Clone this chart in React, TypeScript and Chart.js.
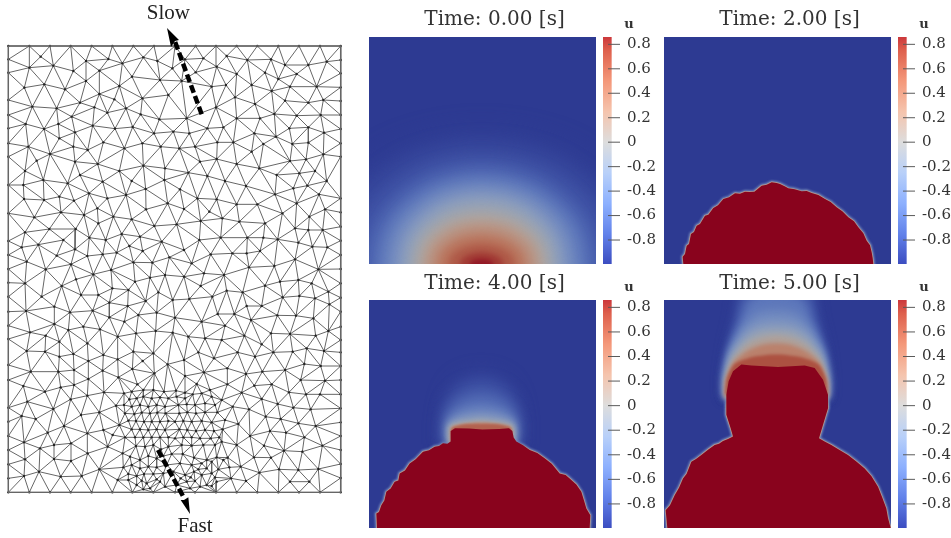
import React, { useEffect, useRef } from "react";
import { Chart, registerables } from "chart.js";

// ---------- Mesh nodes, tile by tile ----------
const meshTileOffsets = [[0, 0], [510, 0], [0, 510], [510, 510], [0, 1050], [510, 1050]];
const meshTopLeft = [
  [25,138],[88,138],[150,138],[212,138],[275,138],[337,138],[400,138],[462,138],
  [25,178],[25,218],[25,300],[25,345],[25,385],[25,430],[25,470],
  [122,170],[88,203],[160,197],[220,213],[258,183],[325,177],[367,190],[430,172],[472,183],
  [298,212],[258,243],[396,230],[480,240],[73,263],[133,253],[195,268],[298,282],[358,258],
  [427,295],[505,285],[343,298],[97,320],[170,325],[240,308],[322,338],[378,325],[283,322],
  [77,372],[132,387],[175,372],[215,350],[278,377],[345,386],[398,381],[422,343],[478,358],
  [462,400],[85,440],[150,462],[178,415],[225,397],[220,440],[263,450],[310,427],[373,445],
  [427,430],[482,440],[110,482],[225,485],[293,492],[430,497],[495,505],
];
const meshTopRight = [
  [15,138],[77,138],[138,138],[200,138],[262,138],[325,138],[387,138],[450,138],[512,138],
  [512,180],[512,220],[512,262],[512,303],[512,345],[512,387],[512,430],[512,470],
  [45,178],[100,175],[170,168],[232,180],[303,178],[345,195],[415,195],[470,185],[140,200],
  [77,217],[200,222],[285,218],[325,237],[380,222],[7,205],[35,243],[125,260],[168,255],[245,255],
  [305,273],[360,260],[440,260],[195,292],[138,322],[255,312],[345,302],[415,308],[460,300],
  [50,355],[200,355],[270,355],[313,342],[380,347],[452,345],[112,385],[160,382],[358,385],
  [415,382],[10,395],[58,400],[253,400],[318,410],[462,398],[142,427],[190,427],[28,445],
  [75,440],[280,432],[367,432],[415,428],[245,455],[140,477],[90,485],[200,492],[360,483],
  [408,478],[460,463],[268,505],
];
const meshMidLeft = [
  [75,3],[130,30],[70,45],[25,45],[203,40],[240,15],[267,70],[308,35],[358,3],[378,75],[395,33],
  [437,57],[493,30],[322,85],[178,80],[222,92],[72,87],[132,90],[292,115],[25,130],[183,127],
  [103,142],[252,135],[340,140],[438,118],[503,100],[395,148],[463,168],[75,187],[148,177],
  [227,177],[295,160],[268,203],[317,210],[365,192],[420,200],[485,215],[190,210],[115,224],
  [25,213],[65,232],[225,238],[25,255],[170,257],[262,258],[308,253],[350,248],[388,228],
  [428,243],[80,275],[508,262],[137,298],[213,283],[25,297],[400,277],[457,278],[333,300],
  [280,313],[228,328],[75,340],[25,338],[450,323],[495,315],[405,335],[185,348],[337,355],
  [243,375],[295,375],[25,380],[125,380],[475,367],[385,360],[437,393],[328,398],[383,408],
  [163,410],[78,423],[210,427],[278,422],[328,442],[415,435],[470,428],[373,455],[25,425],
  [163,462],[25,467],[250,470],[90,487],[137,497],[205,480],[300,478],[408,490],[467,483],
  [353,500],[25,507],[178,515],[262,520],
];
const meshMidRight = [
  [55,8],[112,18],[165,33],[228,48],[320,15],[388,10],[435,3],[412,47],[370,55],[470,33],[30,58],
  [82,85],[140,88],[200,103],[262,103],[315,73],[380,100],[447,73],[512,85],[42,117],[118,125],
  [337,130],[465,118],[512,127],[20,163],[92,153],[157,145],[208,155],[285,160],[418,140],
  [375,175],[415,180],[458,180],[512,170],[88,210],[152,203],[232,203],[280,203],[323,208],
  [385,218],[427,230],[472,232],[512,212],[42,240],[122,253],[187,250],[230,250],[270,243],
  [375,268],[512,255],[2,265],[65,280],[237,292],[313,288],[445,298],[512,297],[42,320],
  [102,310],[162,315],[385,330],[512,340],[92,348],[170,362],[218,367],[285,347],[330,335],
  [425,340],[475,365],[8,390],[58,387],[127,380],[338,382],[388,378],[435,385],[512,383],
  [230,408],[275,408],[478,403],[143,432],[193,432],[322,436],[378,437],[430,445],[512,425],
  [15,443],[95,455],[165,467],[243,450],[512,470],[475,483],[8,488],[55,500],[105,505],
  [155,510],[223,497],[303,490],[360,492],[437,497],[275,523],[410,535],[512,510],
];
const meshBottomLeft = [
  [25,45],[25,90],[25,173],[25,215],[25,258],[25,300],[25,343],[25,385],[25,427],
  [88,427],[150,427],[212,427],[275,427],[337,427],[397,427],[460,427],
  [80,3],[135,5],[178,20],[220,12],[265,33],[310,15],[353,28],[400,5],[428,33],[460,10],[503,43],
  [92,65],[175,65],[222,60],[308,62],[355,82],[397,57],[463,70],[70,108],[135,125],[182,112],
  [222,105],[265,87],[312,127],[412,103],[82,155],[160,177],[212,148],[262,137],[65,198],
  [107,207],[243,195],[298,187],[348,167],[192,228],[143,248],[262,250],[310,240],[358,225],
  [72,277],[120,295],[162,285],[213,280],[323,290],[338,255],[75,328],[162,327],[213,333],
  [263,310],[368,310],[117,365],[298,358],[370,352],[72,378],[182,380],[245,378],[353,390],[385,390],
  [372,130],[388,148],[372,165],[395,125],[430,120],[460,120],[492,125],
  [410,145],[430,140],[455,145],[480,142],[505,145],
  [395,170],[420,165],[445,170],[470,165],[495,170],
  [375,190],[403,192],[425,188],[450,190],[472,188],[497,190],
  [385,212],[408,213],[432,215],[455,215],[480,215],[505,213],
  [395,238],[420,238],[445,240],[470,238],[495,240],
  [375,262],[405,262],[430,262],[455,262],[480,262],[505,262],
  [408,288],[435,290],[460,285],[483,298],[505,290],
  [390,320],[420,330],[445,318],[470,325],[490,318],[500,345],
  [395,345],[420,355],[445,350],[470,352],
  [410,378],[432,372],[460,372],[490,370],[385,372],[470,388],
  [410,405],[440,400],[465,395],[495,410],[425,392],[450,415],[480,395],[430,418],
];
const meshBottomRight = [
  [15,427],[75,427],[138,427],[200,427],[262,427],[325,427],[387,427],[450,427],[512,427],
  [512,7],[512,48],[512,90],[512,133],[512,175],[512,217],[512,258],[512,300],[512,342],[512,384],
  [42,30],[85,7],[132,25],[203,7],[255,20],[310,7],[368,5],[462,3],[45,78],[102,67],[172,55],
  [228,72],[277,65],[345,60],[403,42],[452,48],[172,103],[253,107],[305,103],[392,90],[465,92],
  [215,128],[275,147],[357,127],[408,133],[450,133],[188,170],[237,178],[323,162],[370,173],
  [422,178],[287,200],[332,207],[385,220],[437,228],[205,222],[240,258],[300,243],[348,248],
  [403,262],[200,285],[282,287],[457,287],[342,302],[397,305],[252,322],[303,323],[212,350],
  [268,368],[327,358],[385,360],[445,357],[183,385],[360,395],[418,395],[228,393],
  [18,122],[45,128],[80,102],[120,120],[155,150],
  [20,140],[45,145],[68,133],[95,130],[125,140],
  [25,165],[50,163],[75,165],[105,160],[135,165],
  [28,190],[52,187],[78,190],[105,187],[142,187],
  [15,215],[40,213],[65,215],[95,213],[125,217],[165,210],
  [28,238],[52,240],[78,243],[105,240],[132,243],[158,238],
  [15,265],[40,262],[65,262],[90,265],[122,265],[148,262],
  [35,285],[65,287],[100,285],[135,285],[155,275],
  [5,312],[38,312],[72,323],[110,330],[140,322],[173,323],
  [30,340],[65,345],[95,340],[125,335],[160,330],[178,352],
  [10,365],[45,375],[72,365],[95,375],[125,370],[145,358],
  [20,405],[50,395],[75,393],[110,405],[140,395],
  [32,385],[60,415],[90,410],[125,408],[62,382],[85,358],[110,355],[135,382],
];
const meshTiles = [meshTopLeft, meshTopRight, meshMidLeft, meshMidRight, meshBottomLeft, meshBottomRight];
const meshCorners = [[25,138],[1022,138],[1022,1477],[25,1477],[25,138]];
const slowShaft = [[605,343],[525,125]];
const slowHead = [[501,84],[513,141],[525,123],[537,120]];
const fastShaft = [[474,1350],[550,1490]];
const fastHead = [[570,1542],[542,1500],[552,1500],[565,1492]];

// ---------- Colour bar ----------
const colorbarTicks = [0.8, 0.6, 0.4, 0.2, 0, -0.2, -0.4, -0.6, -0.8];
const colormapValues = [-1, -0.75, -0.5, -0.25, 0, 0.25, 0.5, 0.75, 1];
const colormapColors = [
  [59,76,192],[98,130,234],[141,176,254],[184,208,249],[221,221,221],
  [245,196,173],[244,152,122],[222,96,77],[180,4,38],
];
const fieldShade = 0.76;

// ---------- Panel titles ----------
const panelTitles = ["Time: 0.00 [s]", "Time: 2.00 [s]", "Time: 4.00 [s]", "Time: 5.00 [s]"];

// ---------- Panel A: level curves of u (half-arches: distance from centre, height) ----------
const archLevelsA = [-0.95,-0.85,-0.7,-0.55,-0.4,-0.25,-0.1,0.05,0.2,0.35,0.5,0.65,0.8,0.92];
const archSoftenA = [14,12,10,9,8,7,6,5,4.5,4,3.5,3,2.5,2];
const archCurvesA = [
  [[490,0],[466,119],[417,204],[343,273],[245,335],[122,373],[0,385]],
  [[420,0],[399,105],[357,180],[294,241],[210,296],[105,330],[0,340]],
  [[345,0],[328,90],[293,154],[242,206],[173,252],[86,281],[0,290]],
  [[305,0],[290,80],[259,137],[214,183],[153,224],[76,250],[0,258]],
  [[275,0],[261,72],[234,123],[193,165],[138,202],[69,225],[0,232]],
  [[245,0],[233,64],[208,110],[172,148],[123,181],[61,202],[0,208]],
  [[220,0],[209,56],[187,95],[154,128],[110,157],[55,175],[0,180]],
  [[197,0],[187,47],[167,81],[138,109],[99,133],[49,148],[0,153]],
  [[175,0],[166,40],[149,69],[123,92],[88,113],[44,126],[0,130]],
  [[152,0],[144,33],[129,57],[106,76],[76,93],[38,104],[0,107]],
  [[128,0],[122,26],[109,45],[90,60],[64,74],[32,82],[0,85]],
  [[100,0],[95,19],[85,32],[70,43],[50,52],[25,58],[0,60]],
  [[65,0],[62,11],[55,19],[46,25],[33,30],[16,34],[0,35]],
  [[35,0],[33,5],[30,8],[25,11],[18,13],[9,15],[0,15]],
];

// ---------- Panel B: front of the saturated region ----------
const frontB = [
  [58,-30],[58,0],[56,22],[63,30],[68,55],[75,60],[81,90],[90,96],[98,115],[108,120],[123,145],
  [133,148],[148,168],[162,176],[178,195],[195,200],[213,212],[228,211],[243,217],[257,216],
  [271,217],[282,226],[293,235],[308,238],[323,245],[338,243],[348,240],[362,233],[373,227],
  [392,224],[413,218],[428,219],[443,213],[463,207],[483,195],[500,186],[518,170],[535,158],
  [553,140],[570,128],[583,110],[598,92],[608,70],[618,56],[623,35],[626,18],[628,0],[628,-30],
];

// ---------- Panel C ----------
const frontC = [
  [24,-30],[24,0],[22,43],[30,48],[37,68],[46,82],[52,108],[65,118],[77,138],[88,142],[92,163],
  [108,172],[122,193],[140,205],[162,228],[180,232],[197,243],[210,245],[222,253],[235,252],
  [245,258],[245,290],[258,298],[300,297],[340,294],[390,296],[420,298],[430,290],[434,270],
  [442,258],[462,247],[482,233],[505,224],[527,208],[548,192],[572,163],[590,158],[602,148],
  [622,130],[637,108],[645,82],[652,58],[664,38],[662,0],[662,-30],
];
const domeLevelsC = [-0.93,-0.8,-0.6,-0.4,-0.2,0,0.3,0.6];
const domeSoftenC = [9,8,7,5,3.5,2.5,1.5,1];
const domeCurvesC = [
  [[115,250],[115,320],[105,380],[80,430],[40,455],[0,462]],
  [[110,250],[110,320],[100,370],[72,405],[35,425],[0,430]],
  [[105,250],[105,315],[95,345],[65,368],[30,382],[0,385]],
  [[102,250],[102,310],[90,328],[60,342],[28,350],[0,352]],
  [[100,250],[100,305],[88,316],[58,325],[25,330],[0,332]],
  [[97,250],[97,300],[85,310],[55,316],[25,319],[0,320]],
  [[92,250],[92,298],[82,306],[50,312],[25,315],[0,316]],
  [[90,250],[90,295],[80,303],[50,310],[25,311],[0,311]],
];

// ---------- Panel D ----------
const frontD = [
  [10,-30],[10,0],[5,53],[18,68],[32,98],[45,120],[57,148],[68,162],[82,198],[96,206],[112,218],
  [132,234],[152,248],[165,252],[177,260],[192,266],[207,273],[200,298],[187,338],[187,398],
  [194,438],[207,468],[232,488],[262,485],[342,481],[422,485],[452,478],[477,443],[492,398],
  [492,358],[480,318],[465,268],[482,258],[502,248],[528,232],[552,218],[578,198],[602,178],
  [622,155],[642,123],[655,90],[667,58],[672,30],[680,0],[680,-30],
];
const domeLevelsD = [-0.93,-0.8,-0.6,-0.45,-0.3,-0.1,0.1,0.4,0.7];
const domeSoftenD = [6,5,4.5,4,3.5,3,2.5,2,1.5];
const domeCurvesD = [
  [[158,390],[159,450],[148,540],[128,628],[112,700],[0,730]],
  [[157,390],[158,450],[145,535],[120,625],[100,700],[0,720]],
  [[156,390],[157,450],[142,530],[110,610],[80,680],[0,705]],
  [[156,390],[156,450],[140,525],[100,600],[60,640],[0,650]],
  [[155,390],[155,445],[138,520],[95,585],[55,610],[0,618]],
  [[155,390],[154,440],[135,510],[92,565],[50,588],[0,593]],
  [[154,390],[153,440],[132,500],[88,548],[45,568],[0,575]],
  [[154,390],[152,440],[128,495],[85,530],[40,548],[0,552]],
  [[153,400],[147,450],[125,490],[75,510],[30,517],[0,518]],
];

// ---------- Helpers ----------
type P = { x: number | null; y: number | null };
const toPts = (a: number[][]): P[] => a.map(([x, y]) => ({ x, y }));

function coolwarm(u: number): number[] {
  for (let i = 0; i < colormapValues.length - 1; i++) {
    if (u <= colormapValues[i + 1]) {
      const t = (u - colormapValues[i]) / (colormapValues[i + 1] - colormapValues[i]);
      return colormapColors[i].map((c, k) => c + (colormapColors[i + 1][k] - c) * t);
    }
  }
  return colormapColors[colormapColors.length - 1];
}
const fieldColor = (u: number) => {
  const c = coolwarm(u).map((v) => Math.round(v * fieldShade));
  return `rgb(${c[0]},${c[1]},${c[2]})`;
};

const mirrored = (half: number[][], cx: number, base?: number): P[] => {
  const right = half.map(([d, y]) => ({ x: cx + d, y }));
  const left = half.slice(0, -1).reverse().map(([d, y]) => ({ x: cx - d, y }));
  const pts = [...right, ...left];
  if (base !== undefined) {
    pts.unshift({ x: cx + half[0][0], y: base });
    pts.push({ x: cx - half[0][0], y: base });
  }
  return pts;
};

// Bowyer-Watson over the nodes
function delaunayEdges(pts: number[][]): number[][] {
  const n = pts.length;
  const all = [...pts, [-50000, -50000], [60000, -50000], [500, 90000]];
  let tris: number[][] = [[n, n + 1, n + 2]];
  const inCircle = (t: number[], p: number[]) => {
    const [a, b, c] = [all[t[0]], all[t[1]], all[t[2]]];
    const ax = a[0] - p[0], ay = a[1] - p[1];
    const bx = b[0] - p[0], by = b[1] - p[1];
    const cx = c[0] - p[0], cy = c[1] - p[1];
    const det =
      (ax * ax + ay * ay) * (bx * cy - cx * by) -
      (bx * bx + by * by) * (ax * cy - cx * ay) +
      (cx * cx + cy * cy) * (ax * by - bx * ay);
    const o = (b[0] - a[0]) * (c[1] - a[1]) - (b[1] - a[1]) * (c[0] - a[0]);
    return o > 0 ? det > 0 : det < 0;
  };
  for (let i = 0; i < n; i++) {
    const bad: number[][] = [];
    const keep: number[][] = [];
    for (const t of tris) (inCircle(t, all[i]) ? bad : keep).push(t);
    const count = new Map<string, number[]>();
    const seen = new Map<string, number>();
    for (const t of bad) {
      for (const [a, b] of [[t[0], t[1]], [t[1], t[2]], [t[2], t[0]]]) {
        const k = a < b ? `${a}_${b}` : `${b}_${a}`;
        seen.set(k, (seen.get(k) || 0) + 1);
        count.set(k, [a, b]);
      }
    }
    for (const [k, e] of count) if (seen.get(k) === 1) keep.push([e[0], e[1], i]);
    tris = keep;
  }
  const edges = new Map<string, number[]>();
  for (const t of tris) {
    for (const [a, b] of [[t[0], t[1]], [t[1], t[2]], [t[2], t[0]]]) {
      if (a >= n || b >= n) continue;
      edges.set(a < b ? `${a}_${b}` : `${b}_${a}`, [a, b]);
    }
  }
  return [...edges.values()];
}

function meshNodes(): number[][] {
  const out: number[][] = [];
  meshTiles.forEach((tile, i) => {
    const [ox, oy] = meshTileOffsets[i];
    for (const [x, y] of tile) {
      const X = x + ox, Y = y + oy;
      if (!out.some((p) => Math.hypot(p[0] - X, p[1] - Y) < 11)) out.push([X, Y]);
    }
  });
  return out;
}

// ---------- Plugins ----------
// Clips field layers to the field square and softens them.
const fieldLayerPlugin = {
  id: "fieldLayer",
  beforeDatasetDraw(chart: any, args: any) {
    const ds = chart.data.datasets[args.index];
    if (ds.soften === undefined) return;
    const { ctx, chartArea, scales } = chart;
    ctx.save();
    ctx.beginPath();
    const l = scales.x.getPixelForValue(0);
    const r = scales.x.getPixelForValue(681);
    ctx.rect(l, chartArea.top, r - l, chartArea.bottom - chartArea.top);
    ctx.clip();
    ctx.filter = ds.soften > 0 ? `blur(${ds.soften}px)` : "none";
  },
  afterDatasetDraw(chart: any, args: any) {
    const ds = chart.data.datasets[args.index];
    if (ds.soften === undefined) return;
    chart.ctx.restore();
  },
};
Chart.register(fieldLayerPlugin);
Chart.register(...registerables);

const textPlugin = (items: { text: string; x: number; y: number; font: string; color: string }[]) => ({
  id: "placedText",
  afterDraw(chart: any) {
    const { ctx, scales } = chart;
    ctx.save();
    ctx.textAlign = "center";
    ctx.textBaseline = "middle";
    for (const t of items) {
      ctx.font = t.font;
      ctx.fillStyle = t.color;
      ctx.fillText(t.text, scales.x.getPixelForValue(t.x), scales.y.getPixelForValue(t.y));
    }
    ctx.restore();
  },
});

// ---------- Panel datasets ----------
const layer = (data: P[], u: number, soften: number, tension = 0) => ({
  data, soften, tension, fill: "shape", backgroundColor: fieldColor(u), borderWidth: 0,
  pointRadius: 0, yAxisID: "y",
});
const rim = (data: P[], u: number, soften: number, width: number) => ({
  data, soften, tension: 0, fill: false, borderColor: fieldColor(u), borderWidth: width,
  pointRadius: 0, yAxisID: "y",
});
const baseRect = (): any =>
  layer(toPts([[-20, -20], [720, -20], [720, 720], [-20, 720]]), -1, 0);

function panelA() {
  return [baseRect(), ...archLevelsA.map((u, i) => layer(mirrored(archCurvesA[i], 338, -60), u, archSoftenA[i], 0.3))];
}
function panelB() {
  const p = toPts(frontB);
  return [baseRect(), rim(p, -0.35, 1, 3), rim(p, 0.2, 0.6, 1.4), layer(p, 1, 0.5)];
}
function panelC() {
  const p = toPts(frontC);
  return [
    baseRect(),
    rim(p, -0.35, 1, 3),
    rim(p, 0.2, 0.6, 1.4),
    ...domeLevelsC.map((u, i) => layer(mirrored(domeCurvesC[i], 337), u, domeSoftenC[i], 0.25)),
    layer(p, 1, 0.5),
  ];
}
function panelD() {
  const p = toPts(frontD);
  return [
    baseRect(),
    rim(p, -0.35, 1, 3),
    rim(p, 0.2, 0.6, 1.4),
    ...domeLevelsD.map((u, i) => layer(mirrored(domeCurvesD[i], 337), u, domeSoftenD[i], 0.25)),
    layer(p, 1, 0.7),
  ];
}

function colorbarDatasets() {
  const tickPts: P[] = [];
  for (const v of colorbarTicks) tickPts.push({ x: 717, y: v }, { x: 753, y: v }, { x: null, y: null });
  return [
    {
      data: toPts([[702, -0.996], [728, -0.996], [728, 0.86], [702, 0.86]]),
      yAxisID: "cb", fill: "shape", borderWidth: 0, pointRadius: 0, tension: 0,
      backgroundColor: (ctx: any) => {
        const { chart } = ctx;
        if (!chart.chartArea) return "#888";
        const s = chart.scales.cb;
        const g = chart.ctx.createLinearGradient(0, s.getPixelForValue(-1), 0, s.getPixelForValue(1));
        colormapValues.forEach((u, i) => {
          const c = colormapColors[i];
          g.addColorStop((u + 1) / 2, `rgb(${c[0]},${c[1]},${c[2]})`);
        });
        return g;
      },
    },
    { data: tickPts, yAxisID: "cb", borderColor: "#5a5a5a", borderWidth: 1, pointRadius: 0, fill: false, spanGaps: false, tension: 0 },
  ];
}

const SERIF = '"DejaVu Serif", serif';
const panelStyles = [
  { left: 369, top: 0, pad: { top: 8, bottom: 5 }, build: panelA },
  { left: 664, top: 0, pad: { top: 8, bottom: 5 }, build: panelB },
  { left: 369, top: 264, pad: { top: 8, bottom: 4 }, build: panelC },
  { left: 664, top: 264, pad: { top: 8, bottom: 4 }, build: panelD },
];

function Panel({ index }: { index: number }) {
  const ref = useRef<HTMLCanvasElement>(null);
  const st = panelStyles[index];
  useEffect(() => {
    const field = st.build().map((d: any, i: number) => ({ ...d, order: -i }));
    const bar = colorbarDatasets().map((d: any, i: number) => ({ ...d, order: -1000 - i }));
    const chart = new Chart(ref.current!, {
      type: "line",
      data: { datasets: [...field, ...bar] as any },
      plugins: [textPlugin([{ text: "u", x: 780, y: 681 + 38, font: `bold 13px ${SERIF}`, color: "#333" }])],
      options: {
        responsive: false,
        animation: false,
        layout: { padding: 0, autoPadding: false },
        plugins: {
          legend: { display: false },
          tooltip: { enabled: false },
          title: {
            display: true,
            fullSize: false,
            text: panelTitles[index],
            color: "#333",
            font: { family: SERIF, size: 20, weight: "normal", lineHeight: 1.2 },
            padding: st.pad,
          },
        },
        scales: {
          x: { type: "linear", min: 0, max: 753, display: false },
          y: { type: "linear", min: 0, max: 681, display: false },
          cb: {
            type: "linear",
            position: "right",
            min: -0.996,
            max: 0.86,
            grid: { display: false, drawTicks: false },
            border: { display: false },
            afterBuildTicks: (s: any) => { s.ticks = colorbarTicks.map((value) => ({ value })); },
            afterFit: (s: any) => { s.width = 36; s.paddingTop = 0; s.paddingBottom = 0; },
            ticks: {
              padding: 7,
              color: "#333",
              autoSkip: false,
              font: { family: SERIF, size: 15 },
              callback: (v: any) => (Number(v) === 0 ? "0" : Number(v).toFixed(1)),
            },
          },
        },
      } as any,
    });
    return () => chart.destroy();
  }, []);
  return (
    <canvas
      ref={ref}
      width={287}
      height={264}
      style={{ position: "absolute", left: st.left, top: st.top, width: 287, height: 264, filter: "blur(0.5px)" }}
    />
  );
}

function Mesh() {
  const ref = useRef<HTMLCanvasElement>(null);
  useEffect(() => {
    const nodes = meshNodes();
    const edges = delaunayEdges(nodes);
    const edgePts: P[] = [];
    for (const [a, b] of edges) {
      edgePts.push({ x: nodes[a][0], y: nodes[a][1] }, { x: nodes[b][0], y: nodes[b][1] }, { x: null, y: null });
    }
    const chart = new Chart(ref.current!, {
      type: "line",
      data: {
        datasets: [
          { data: toPts(slowHead), fill: "shape", backgroundColor: "#000", borderWidth: 0, pointRadius: 0, tension: 0, order: -5 },
          { data: toPts(fastHead), fill: "shape", backgroundColor: "#000", borderWidth: 0, pointRadius: 0, tension: 0, order: -4 },
          { data: toPts(slowShaft), borderColor: "#000", borderWidth: 4.5, borderDash: [8, 3.5], pointRadius: 0, tension: 0, order: -3 },
          { data: toPts(fastShaft), borderColor: "#000", borderWidth: 4.5, borderDash: [8, 3], pointRadius: 0, tension: 0, order: -2 },
          { data: toPts(meshCorners), borderColor: "#666", borderWidth: 1.4, pointRadius: 0, tension: 0, order: 0 },
          { data: toPts(nodes), showLine: false, pointRadius: 1.2, pointBackgroundColor: "#222", pointBorderWidth: 0, order: 1 },
          { data: edgePts, borderColor: "#666666", borderWidth: 1, pointRadius: 0, tension: 0, spanGaps: false, order: 2 },
        ] as any,
      },
      plugins: [
        textPlugin([
          { text: "Slow", x: 505, y: 39, font: '21px "Liberation Serif", serif', color: "#222" },
          { text: "Fast", x: 585, y: 1578, font: '21px "Liberation Serif", serif', color: "#222" },
        ]),
      ],
      options: {
        responsive: false,
        animation: false,
        layout: { padding: 0, autoPadding: false },
        plugins: { legend: { display: false }, tooltip: { enabled: false } },
        scales: {
          x: { type: "linear", min: 0, max: 1053, display: false },
          y: { type: "linear", min: 0, max: 1614, reverse: true, display: false },
        },
      } as any,
    });
    return () => chart.destroy();
  }, []);
  return (
    <canvas
      ref={ref}
      width={351}
      height={538}
      style={{ position: "absolute", left: 0, top: 0, width: 351, height: 538, filter: "blur(0.55px)" }}
    />
  );
}

export default function App() {
  return (
    <div style={{ position: "absolute", left: 0, top: 0, width: 951, height: 538, overflow: "hidden", background: "#fff" }}>
      <Mesh />
      {panelStyles.map((_, i) => (
        <Panel key={i} index={i} />
      ))}
    </div>
  );
}
